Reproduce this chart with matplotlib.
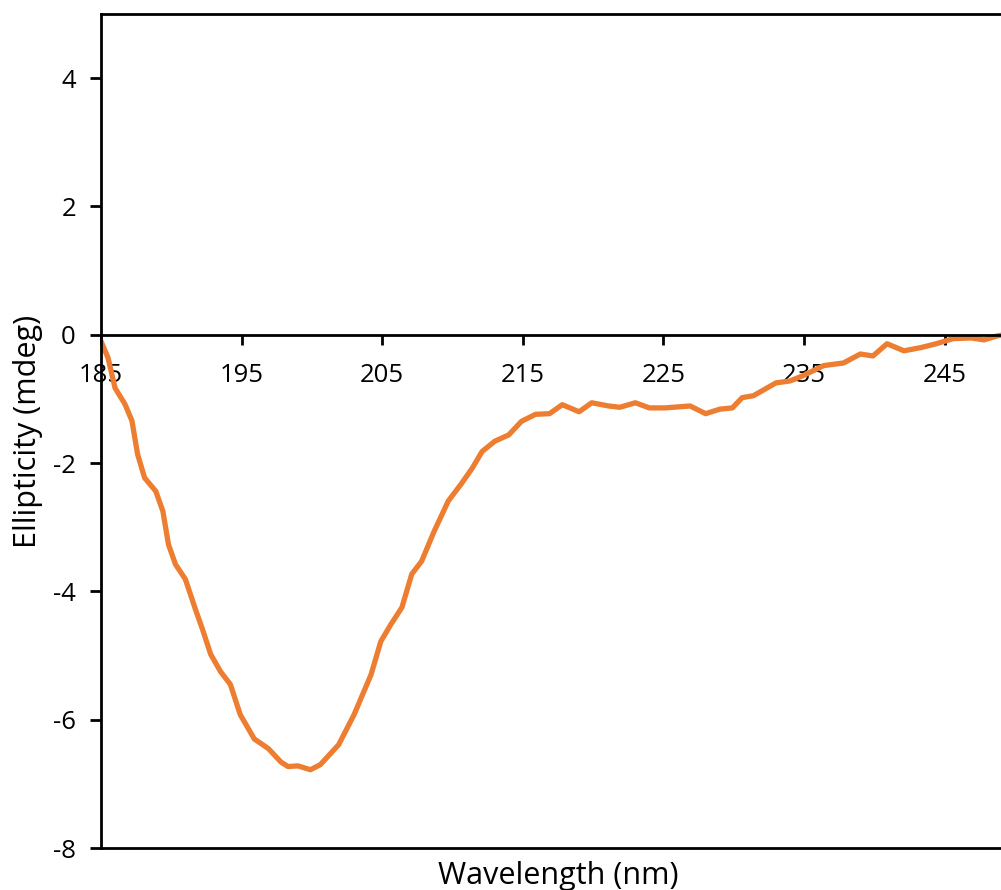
import matplotlib as mpl
mpl.use('Agg')
import matplotlib.pyplot as plt
from matplotlib.ticker import FixedLocator

mpl.rcParams['font.family'] = ['Open Sans', 'DejaVu Sans']
mpl.rcParams['axes.unicode_minus'] = False

# CD spectrum
wavelength = [185.0, 185.5, 186.0, 186.7, 187.2, 187.6, 188.1, 188.9, 189.4, 189.8,
              190.3, 191.0, 191.7, 192.2, 192.8, 193.5, 194.2, 194.9, 195.9, 196.9,
              197.8, 198.3, 199.0, 199.9, 200.6, 201.9, 203.0, 204.2, 204.9, 205.6,
              206.4, 207.1, 207.8, 208.7, 209.7, 210.6, 211.4, 212.1, 213.0, 214.0,
              214.9, 215.9, 216.9, 217.8, 219.0, 219.9, 221.1, 221.9, 223.0, 224.0,
              225.1, 226.9, 228.0, 229.0, 229.9, 230.6, 231.4, 233.0, 234.0, 234.9,
              236.4, 237.8, 239.0, 239.9, 240.9, 242.1, 243.3, 244.4, 245.6, 246.9,
              247.8, 248.7, 249.2, 250.0]
ellipticity = [-0.10, -0.36, -0.83, -1.08, -1.34, -1.86, -2.23, -2.44, -2.75, -3.27,
               -3.58, -3.81, -4.27, -4.58, -4.98, -5.25, -5.45, -5.92, -6.30, -6.45,
               -6.66, -6.73, -6.72, -6.78, -6.70, -6.39, -5.92, -5.30, -4.78, -4.52,
               -4.25, -3.73, -3.53, -3.06, -2.59, -2.33, -2.08, -1.82, -1.66, -1.56,
               -1.35, -1.24, -1.23, -1.09, -1.20, -1.06, -1.11, -1.13, -1.06, -1.14,
               -1.14, -1.11, -1.23, -1.16, -1.14, -0.98, -0.95, -0.75, -0.72, -0.64,
               -0.48, -0.44, -0.30, -0.33, -0.14, -0.25, -0.20, -0.14, -0.06, -0.05,
               -0.08, -0.02, 0.00, 0.02]

xticks = [185, 195, 205, 215, 225, 235, 245]
yticks = [-8, -6, -4, -2, 0, 2, 4]

fig = plt.figure(figsize=(10.01, 8.9), dpi=100)
# plot area runs a little past the right edge, as in the cropped original
ax = fig.add_axes([101/1001., 42/890., 914/1001., 834/890.])

ax.plot(wavelength, ellipticity, color='#ED7D31', lw=3.8,
        solid_capstyle='round', solid_joinstyle='round')

ax.set_xlim(185, 250)
ax.set_ylim(-8, 5)

for s in ['left', 'bottom', 'top', 'right']:
    ax.spines[s].set_linewidth(2)
    ax.spines[s].set_color('black')
ax.spines['bottom'].set_position(('data', 0))
ax.axhline(-8, color='black', lw=2, clip_on=False)

ax.xaxis.set_major_locator(FixedLocator(xticks))
ax.yaxis.set_major_locator(FixedLocator(yticks))
ax.tick_params(axis='x', direction='out', length=7, width=2, labelsize=18.5, pad=13)
ax.tick_params(axis='y', direction='out', length=8, width=2, labelsize=18.5, pad=10)

ax.set_xlabel('Wavelength (nm)', fontsize=22, va='center')
ax.xaxis.set_label_coords(0.5, -0.033)
ax.set_ylabel('Ellipticity (mdeg)', fontsize=22)
ax.yaxis.set_label_coords(-0.064, 0.5)

plt.savefig('out.png', dpi=100)
plt.close()
